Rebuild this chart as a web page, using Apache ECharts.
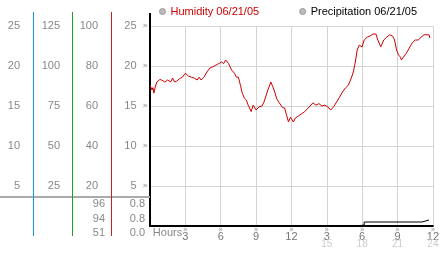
<!DOCTYPE html>
<html><head><meta charset="utf-8">
<script src="https://cdn.jsdelivr.net/npm/echarts@6/dist/echarts.min.js"></script>
<style>html,body{margin:0;padding:0;background:#fff}#c{width:442px;height:253px}</style>
</head><body><div id="c"></div>
<script>
const seriesNames = ['Humidity 06/21/05', 'Precipitation 06/21/05'];
const humidityHours = [0,0.17,0.25,0.33,0.42,0.58,0.67,0.83,1,1.25,1.5,1.75,1.92,2.08,2.25,2.5,2.75,3,3.25,3.5,3.75,4,4.17,4.33,4.58,4.83,5.08,5.33,5.58,5.83,6.08,6.25,6.42,6.67,6.92,7.17,7.33,7.5,7.67,7.83,8,8.17,8.33,8.58,8.75,9,9.25,9.5,9.67,9.83,10,10.25,10.42,10.58,10.75,10.92,11.08,11.25,11.42,11.58,11.75,11.92,12.17,12.33,12.58,12.83,13.08,13.33,13.58,13.83,14.08,14.33,14.58,14.83,15.08,15.33,15.58,15.83,16.08,16.33,16.58,16.83,17.08,17.25,17.42,17.58,17.75,18,18.17,18.42,18.67,18.92,19.17,19.33,19.58,19.83,20.08,20.33,20.58,20.75,20.92,21.08,21.25,21.33,21.5,21.75,22,22.25,22.5,22.75,23,23.25,23.5,23.67,23.75];
const humidityValues = [17.6,17.0,17.3,16.6,17.25,18.0,18.25,18.3,18.25,18.0,18.25,18.0,18.5,18.0,18.1,18.4,18.6,19.1,18.75,18.6,18.5,18.25,18.6,18.25,18.6,19.25,19.75,19.9,20.1,20.3,20.5,20.3,20.75,20.3,19.5,19.1,18.6,18.6,17.6,16.6,16.0,15.75,15.1,14.3,15.1,14.5,14.9,15.0,15.5,15.75,17.0,18.0,17.4,16.75,15.9,15.5,15.75,14.8,14.75,13.9,13.0,13.6,13.0,13.5,13.75,14.0,14.25,14.6,15.0,15.4,15.1,15.3,15.0,15.1,14.9,14.5,14.9,15.5,16.1,16.75,17.25,17.6,18.5,19.25,20.5,22.0,22.6,22.4,23.25,23.6,23.75,24.0,24.0,23.25,22.4,23.25,23.6,23.9,23.75,23.25,22.0,21.4,21.1,20.75,21.1,21.6,22.25,22.9,23.25,23.25,23.6,23.9,23.9,23.9,23.5];
const precipHours = [0, 17.5, 18.17, 23.08, 23.67];
const precipValues = [0, 0.005, 0.02, 0.03, 0.03];
const xAxisTitle = 'Hours';
const hourTickLabels = ['3','6','9','12','3','6','9','12'];
const hourSubLabels = ['','','','','15','18','21','24'];
const humidityStats = ['96','94','51'];
const precipStats = ['0.8','0.8','0.0'];

const FONT = 'Liberation Sans';
const chart = echarts.init(document.getElementById('c'), null, {renderer:'canvas'});

function sideAxis(max, interval, offset, margin) {
  return {
    type:'value', min:0, max:max, interval:interval, position:'left', offset:offset,
    axisLine:{show:false}, axisTick:{show:false}, splitLine:{show:false},
    axisLabel:{showMinLabel:false, margin:margin, color:'#888', fontSize:11, fontFamily:FONT}
  };
}

const statTexts = [];
[204, 218.5, 232.5].forEach((y, i) => {
  statTexts.push({type:'text', x:105, y:y, style:{text:humidityStats[i], fill:'#888', font:'11px '+FONT, align:'right', verticalAlign:'middle'}});
  statTexts.push({type:'text', x:145, y:y, style:{text:precipStats[i], fill:'#888', font:'11px '+FONT, align:'right', verticalAlign:'middle'}});
});

chart.setOption({
  animation:false,
  backgroundColor:'#fff',
  textStyle:{fontFamily:FONT},
  legend:{
    left:154, top:1, icon:'circle', itemWidth:6, itemHeight:6, itemGap:40, selectedMode:false,
    textStyle:{fontSize:11, fontFamily:FONT},
    data:[
      {name:seriesNames[0], itemStyle:{color:'#bbb', borderColor:'#999', borderWidth:1}, textStyle:{color:'#cc0000'}},
      {name:seriesNames[1], itemStyle:{color:'#bbb', borderColor:'#999', borderWidth:1}, textStyle:{color:'#000'}}
    ]
  },
  grid:{left:150, top:26, right:4, bottom:27, containLabel:false},
  xAxis:{
    type:'value', min:0, max:24, interval:3,
    axisLine:{lineStyle:{color:'#000', width:2}},
    axisTick:{show:false},
    splitLine:{lineStyle:{color:'#d4d4d4'}},
    axisLabel:{
      margin:1, showMinLabel:true,
      formatter:function(v){
        if (v === 0) return '{h|' + xAxisTitle + '}';
        const i = Math.round(v/3) - 1;
        return '{m|»}\n{v|' + hourTickLabels[i] + '}\n{s|' + (hourSubLabels[i] || ' ') + '}';
      },
      rich:{
        h:{fontSize:11, color:'#888', lineHeight:11, padding:[0,0,0,35], fontFamily:FONT},
        m:{fontSize:8, color:'#999', lineHeight:6, fontFamily:'DejaVu Sans'},
        v:{fontSize:11, color:'#777', lineHeight:7, fontFamily:FONT},
        s:{fontSize:10, color:'#ccc', lineHeight:8, fontFamily:FONT}
      }
    }
  },
  yAxis:[
    {
      type:'value', min:0, max:25, interval:5, position:'left', offset:0,
      axisLine:{show:true, lineStyle:{color:'#000', width:2}},
      axisTick:{show:false},
      splitLine:{lineStyle:{color:'#d4d4d4'}},
      axisLabel:{
        showMinLabel:false, margin:2,
        formatter:function(v){ return '{v|' + v + '}{m|»}'; },
        rich:{ v:{color:'#888', fontSize:11, fontFamily:FONT}, m:{color:'#999', fontSize:9, padding:[0,0,0,6], fontFamily:'DejaVu Sans'} }
      }
    },
    sideAxis(100, 20, 39, 13),
    sideAxis(125, 25, 78, 12),
    sideAxis(25, 5, 117, 13),
    {type:'value', min:0, max:1, show:false}
  ],
  graphic:[
    {type:'line', z:1, shape:{x1:0, y1:197, x2:150, y2:197}, style:{stroke:'#aaa', lineWidth:2}},
    {type:'line', z:2, shape:{x1:33.5, y1:12, x2:33.5, y2:236}, style:{stroke:'#1a9bd7', lineWidth:1}},
    {type:'line', z:2, shape:{x1:72.5, y1:12, x2:72.5, y2:236}, style:{stroke:'#1e9e2a', lineWidth:1}},
    {type:'line', z:2, shape:{x1:111.5, y1:12, x2:111.5, y2:236}, style:{stroke:'#c81e28', lineWidth:1}},
    {type:'line', z:2, shape:{x1:150, y1:13, x2:150, y2:26}, style:{stroke:'#000', lineWidth:2}}
  ].concat(statTexts),
  series:[
    {
      name:seriesNames[0], type:'line', yAxisIndex:0, showSymbol:false, symbol:'none',
      lineStyle:{color:'#cc0000', width:1}, itemStyle:{color:'#cc0000'},
      data:humidityHours.map((h, i) => [h, humidityValues[i]])
    },
    {
      name:seriesNames[1], type:'line', yAxisIndex:4, showSymbol:false, symbol:'none', step:'end',
      lineStyle:{color:'#000', width:1}, itemStyle:{color:'#000'},
      data:precipHours.map((h, i) => [h, precipValues[i]])
    }
  ]
});
</script>
</body></html>
